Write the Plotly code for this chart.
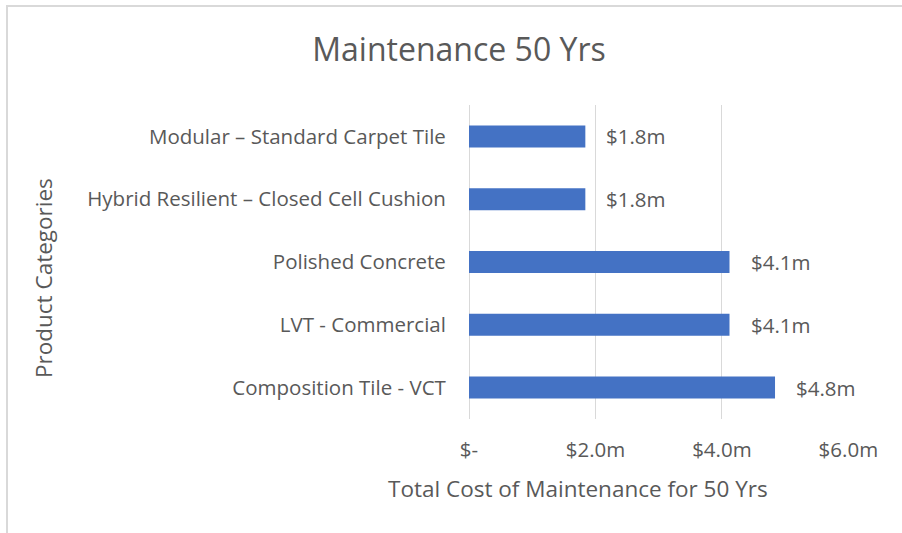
import plotly.graph_objects as go

categories = ["Composition Tile - VCT", "LVT - Commercial", "Polished Concrete",
              "Hybrid Resilient – Closed Cell Cushion", "Modular – Standard Carpet Tile"]
values = [4.84, 4.12, 4.12, 1.84, 1.84]
value_labels = ["$4.8m", "$4.1m", "$4.1m", "$1.8m", "$1.8m"]
tick_vals = [0, 2, 4, 6]
tick_text = ["$-", "$2.0m", "$4.0m", "$6.0m"]

W, H = 902, 533
L, R, T, B = 469, 53, 105, 114
pw, ph = W - L - R, H - T - B
FONT = "Open Sans"
GRAY = "#595959"

fig = go.Figure(go.Bar(
    y=categories, x=values, orientation="h",
    marker=dict(color="#4472C4", line=dict(width=0)),
    width=0.35, hoverinfo="skip",
))

for c, v, t in zip(categories, values, value_labels):
    fig.add_annotation(x=v, y=c, text=t, showarrow=False, xanchor="left",
                       xshift=19, font=dict(family=FONT, size=20.5, color=GRAY))

def px_x(p):
    return (p - L) / pw

def px_y(p):
    return (H - B - p) / ph

fig.add_annotation(xref="paper", yref="paper", x=px_x(43), y=px_y(278),
                   text="Product Categories", textangle=-90, showarrow=False,
                   xanchor="center", yanchor="middle",
                   font=dict(family=FONT, size=22.5, color=GRAY))
fig.add_annotation(xref="paper", yref="paper", x=px_x(578), y=px_y(488),
                   text="Total Cost of Maintenance for 50 Yrs", showarrow=False,
                   xanchor="center", yanchor="middle",
                   font=dict(family=FONT, size=22.5, color=GRAY))

# chart border (left and top visible)
fig.add_shape(type="rect", xref="paper", yref="paper",
              x0=px_x(7), x1=px_x(W + 5), y0=px_y(H + 5), y1=px_y(6),
              line=dict(color="#d9d9d9", width=2), fillcolor="rgba(0,0,0,0)", layer="below")

fig.update_layout(
    width=W, height=H, autosize=False,
    margin=dict(l=L, r=R, t=T, b=B),
    paper_bgcolor="white", plot_bgcolor="white",
    showlegend=False,
    title=dict(text="Maintenance 50 Yrs", x=459 / W, xanchor="center",
               y=1 - 50 / H, yanchor="middle",
               font=dict(family=FONT, size=32, color=GRAY)),
    xaxis=dict(range=[0, 6.01], tickvals=tick_vals, ticktext=tick_text,
               showgrid=True, gridcolor="#d9d9d9", gridwidth=1.3,
               zeroline=True, zerolinecolor="#d9d9d9", zerolinewidth=1.3,
               showline=False, ticks="outside", ticklen=12, tickcolor="rgba(0,0,0,0)",
               tickfont=dict(family=FONT, size=20.5, color=GRAY), fixedrange=True),
    yaxis=dict(showgrid=False, zeroline=False, showline=False,
               ticks="outside", ticklen=18, tickcolor="rgba(0,0,0,0)",
               tickfont=dict(family=FONT, size=20.5, color=GRAY), fixedrange=True),
    bargap=0.65,
)

fig.write_html("out.html", config={"displayModeBar": False},
               post_script="document.body.style.margin='0';")
